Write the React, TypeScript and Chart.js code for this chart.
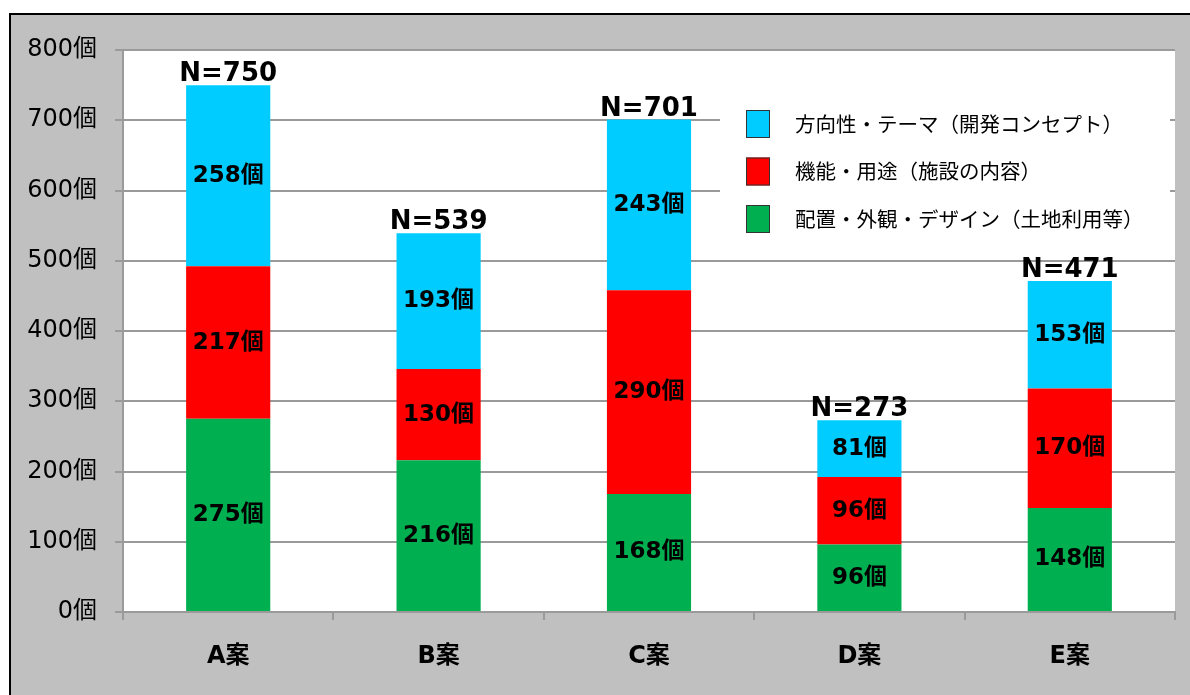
import React, { useEffect, useRef } from "react";
import { Chart, registerables } from "chart.js";

Chart.register(...registerables);

const categories = ["A案", "B案", "C案", "D案", "E案"];
const seriesLabels = [
  "配置・外観・デザイン（土地利用等）",
  "機能・用途（施設の内容）",
  "方向性・テーマ（開発コンセプト）",
];
const designValues = [275, 216, 168, 96, 148];
const functionValues = [217, 130, 290, 96, 170];
const themeValues = [258, 193, 243, 81, 153];
const seriesColors = ["#00B050", "#FF0000", "#00CCFF"];
const yMin = 0;
const yMax = 800;
const yStep = 100;
const unit = "個";

const FONT = "'DejaVu Sans', 'Noto Sans CJK JP', sans-serif";
const CJK = "'Noto Sans CJK JP', sans-serif";

const bgPlugin = {
  id: "bgPlugin",
  beforeDraw(chart: any) {
    const { ctx, width, height, chartArea } = chart;
    ctx.save();
    ctx.fillStyle = "#ffffff";
    ctx.fillRect(0, 0, width, height);
    ctx.fillStyle = "#c0c0c0";
    ctx.fillRect(10, 14, width - 10, height - 14);
    ctx.strokeStyle = "#000000";
    ctx.lineWidth = 2;
    ctx.beginPath();
    ctx.moveTo(10, height);
    ctx.lineTo(10, 14);
    ctx.lineTo(width, 14);
    ctx.stroke();
    ctx.fillStyle = "#ffffff";
    ctx.fillRect(chartArea.left, chartArea.top, chartArea.right - chartArea.left, chartArea.bottom - chartArea.top);
    ctx.restore();
  },
};

const labelPlugin = {
  id: "labelPlugin",
  afterDatasetsDraw(chart: any) {
    const { ctx } = chart;
    ctx.save();
    ctx.fillStyle = "#000000";
    ctx.textAlign = "center";
    const n = chart.data.datasets.length;
    chart.data.datasets.forEach((ds: any, di: number) => {
      const meta = chart.getDatasetMeta(di);
      meta.data.forEach((el: any, i: number) => {
        const v = ds.data[i];
        ctx.font = `bold 23px ${FONT}`;
        ctx.textBaseline = "middle";
        ctx.fillText(`${v}${unit}`, el.x, (el.y + el.base) / 2);
        if (di === n - 1) {
          let total = 0;
          chart.data.datasets.forEach((d: any) => (total += d.data[i]));
          ctx.font = `bold 26px ${FONT}`;
          ctx.textBaseline = "alphabetic";
          ctx.fillText(`N=${total}`, el.x, el.y - 4);
        }
      });
    });
    ctx.restore();
  },
  afterDraw(chart: any) {
    const { ctx } = chart;
    ctx.save();
    ctx.fillStyle = "#ffffff";
    ctx.fillRect(720, 96, 450, 152);
    const ds = chart.data.datasets;
    for (let k = 0; k < ds.length; k++) {
      const d = ds[ds.length - 1 - k];
      const cy = 124 + k * 47.5;
      ctx.fillStyle = d.backgroundColor;
      ctx.fillRect(746, cy - 14, 24, 28);
      ctx.strokeStyle = "#333333";
      ctx.lineWidth = 1;
      ctx.strokeRect(746.5, cy - 13.5, 23, 27);
      ctx.fillStyle = "#000000";
      ctx.font = `20.5px ${CJK}`;
      ctx.textAlign = "left";
      ctx.textBaseline = "middle";
      ctx.fillText(d.label, 795, cy);
    }
    ctx.restore();
  },
};

export default function App() {
  const ref = useRef<HTMLCanvasElement>(null);
  useEffect(() => {
    const chart = new Chart(ref.current as HTMLCanvasElement, {
      type: "bar",
      data: {
        labels: categories,
        datasets: [designValues, functionValues, themeValues].map((vals, i) => ({
          label: seriesLabels[i],
          data: vals,
          backgroundColor: seriesColors[i],
          borderWidth: 0,
          categoryPercentage: 1,
          barPercentage: 0.4,
        })),
      },
      options: {
        animation: false,
        responsive: false,
        layout: { padding: { top: 50, right: 15, left: 0, bottom: 0 } },
        plugins: { legend: { display: false }, tooltip: { enabled: false } },
        scales: {
          x: {
            stacked: true,
            afterFit(s: any) {
              s.height = 83;
            },
            grid: {
              display: true,
              offset: true,
              drawOnChartArea: false,
              drawTicks: true,
              tickLength: 8,
              color: "#9a9a9a",
              lineWidth: 2,
            },
            border: { display: true, color: "#9a9a9a", width: 2 },
            ticks: {
              color: "#000000",
              font: { family: FONT, size: 24, weight: "bold" },
              padding: 22,
            },
          },
          y: {
            stacked: true,
            min: yMin,
            max: yMax,
            afterFit(s: any) {
              s.width = 123;
            },
            grid: { color: "#9a9a9a", lineWidth: 2, tickLength: 8 },
            border: { display: true, color: "#9a9a9a", width: 2 },
            ticks: {
              stepSize: yStep,
              color: "#000000",
              padding: 18,
              font: { family: FONT, size: 24 },
              callback: (v: any) => `${v}${unit}`,
            },
          },
        },
      },
      plugins: [bgPlugin, labelPlugin],
    } as any);
    return () => chart.destroy();
  }, []);
  return (
    <div style={{ position: "fixed", left: 0, top: 0, width: 1190, height: 695 }}>
      <canvas ref={ref} width={1190} height={695} style={{ width: 1190, height: 695 }} />
    </div>
  );
}
